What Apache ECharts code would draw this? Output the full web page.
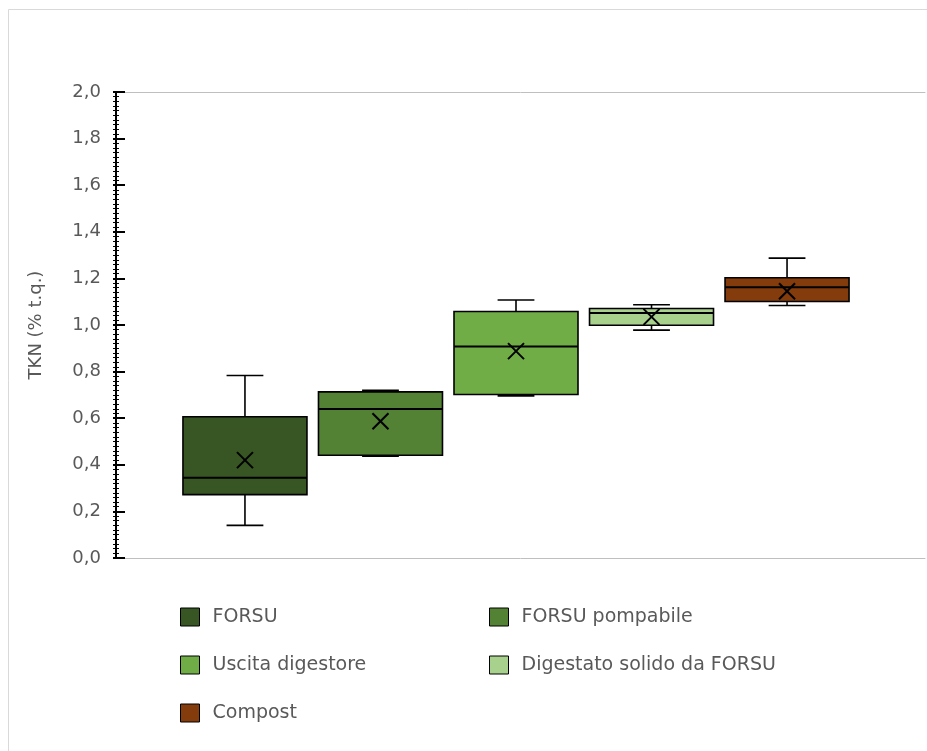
<!DOCTYPE html>
<html><head><meta charset="utf-8">
<script src="https://cdn.jsdelivr.net/npm/echarts@6/dist/echarts.min.js"></script>
<style>html,body{margin:0;padding:0;background:#fff}#c{width:927px;height:751px}</style>
</head><body><div id="c"></div>
<script>
// ---- data ----
const groups = ['FORSU', 'FORSU pompabile', 'Uscita digestore', 'Digestato solido da FORSU', 'Compost'];
const whiskerLow  = [0.140, 0.437, 0.696, 0.978, 1.084];
const q1          = [0.272, 0.441, 0.702, 0.999, 1.101];
const median      = [0.344, 0.640, 0.908, 1.051, 1.162];
const q3          = [0.606, 0.713, 1.058, 1.071, 1.203];
const whiskerHigh = [0.783, 0.720, 1.107, 1.087, 1.287];
const mean        = [0.420, 0.587, 0.888, 1.035, 1.145];
const yTickLabels = ['0,0', '0,2', '0,4', '0,6', '0,8', '1,0', '1,2', '1,4', '1,6', '1,8', '2,0'];
const colors = ['#375623', '#548235', '#70AD47', '#A9D18E', '#843C0C'];

const FONT = 'DejaVu Sans';
const GREY = '#595959';
const FRAME = '#bfbfbf';

function makeRender(i) {
  return function (params, api) {
    const band = api.size([1, 0])[0];
    const slot = band * 0.1694;
    const bw = band * 0.155;
    const cap = band * 0.046;
    const base = api.coord([api.value(0), api.value(3)]);
    const cx = base[0] + (i - (groups.length - 1) / 2) * slot;
    const y = (k) => api.coord([api.value(0), api.value(k)])[1];
    const yLo = y(1), yQ1 = y(2), yMed = y(3), yQ3 = y(4), yHi = y(5), yMean = y(6);
    const ln = { stroke: '#000', lineWidth: 1.6 };
    const m = 8;
    return {
      type: 'group',
      children: [
        { type: 'line', shape: { x1: cx, y1: yQ3, x2: cx, y2: yHi }, style: ln },
        { type: 'line', shape: { x1: cx - cap / 2, y1: yHi, x2: cx + cap / 2, y2: yHi }, style: ln },
        { type: 'line', shape: { x1: cx, y1: yQ1, x2: cx, y2: yLo }, style: ln },
        { type: 'line', shape: { x1: cx - cap / 2, y1: yLo, x2: cx + cap / 2, y2: yLo }, style: ln },
        { type: 'rect', shape: { x: cx - bw / 2, y: yQ3, width: bw, height: yQ1 - yQ3 },
          style: { fill: colors[i], stroke: '#000', lineWidth: 1.6 } },
        { type: 'line', shape: { x1: cx - bw / 2, y1: yMed, x2: cx + bw / 2, y2: yMed }, style: { stroke: '#000', lineWidth: 2 } },
        { type: 'line', shape: { x1: cx - m, y1: yMean - m, x2: cx + m, y2: yMean + m }, style: { stroke: '#000', lineWidth: 2 } },
        { type: 'line', shape: { x1: cx - m, y1: yMean + m, x2: cx + m, y2: yMean - m }, style: { stroke: '#000', lineWidth: 2 } }
      ]
    };
  };
}

const series = groups.map((g, i) => ({
  name: g,
  type: 'custom',
  xAxisIndex: 0,
  yAxisIndex: 0,
  itemStyle: { color: colors[i] },
  encode: { x: 0, y: [1, 2, 3, 4, 5, 6] },
  data: [[0, whiskerLow[i], q1[i], median[i], q3[i], whiskerHigh[i], mean[i]]],
  renderItem: makeRender(i),
  z: 5
}));

const legendItem = (i) => ({
  name: groups[i],
  itemStyle: { color: colors[i], borderColor: '#000', borderWidth: 1 }
});
const legendCommon = {
  orient: 'vertical',
  icon: 'rect',
  padding: 0,
  itemWidth: 19,
  itemHeight: 18,
  itemGap: 28,
  selectedMode: false,
  textStyle: { fontFamily: FONT, fontSize: 19, color: GREY, lineHeight: 20, padding: [0, 0, 0, 8] }
};

const frameLine = { show: true, lineStyle: { color: FRAME, width: 1 } };

const chart = echarts.init(document.getElementById('c'), null, { renderer: 'canvas' });
chart.setOption({
  animation: false,
  backgroundColor: '#fff',
  graphic: [{
    type: 'polyline', silent: true, z: -10,
    shape: { points: [[8.5, 800], [8.5, 9.5], [1000, 9.5]] },
    style: { fill: 'none', stroke: '#d9d9d9', lineWidth: 1 }
  }],
  grid: [
    { left: 116, right: 11, top: 92, bottom: 193 },
    { left: 116, right: 2, top: 92, bottom: 193 }
  ],
  xAxis: [
    { type: 'category', gridIndex: 0, data: ['TKN'], show: false },
    { type: 'value', gridIndex: 1, position: 'bottom', min: 0, max: 1,
      axisLine: frameLine, axisTick: { show: false }, axisLabel: { show: false }, splitLine: { show: false } },
    { type: 'value', gridIndex: 1, position: 'top', min: 0, max: 1,
      axisLine: frameLine, axisTick: { show: false }, axisLabel: { show: false }, splitLine: { show: false } }
  ],
  yAxis: [
    {
      type: 'value', gridIndex: 0, position: 'left', min: 0, max: 2, interval: 0.2, z: 10,
      name: 'TKN (% t.q.)', nameLocation: 'middle', nameGap: 71,
      nameTextStyle: { fontFamily: FONT, fontSize: 18, color: GREY },
      axisLine: { show: true, lineStyle: { color: '#000', width: 2 } },
      axisTick: { show: true, inside: true, length: 9, lineStyle: { color: '#000', width: 2 } },
      minorTick: { show: true, splitNumber: 10, length: 3, lineStyle: { color: '#000', width: 1 } },
      splitLine: { show: false },
      axisLabel: {
        margin: 15, fontFamily: FONT, fontSize: 18, color: GREY,
        formatter: (v) => yTickLabels[Math.round(v / 0.2)]
      }
    },
    {
      type: 'value', gridIndex: 0, position: 'left', offset: 0, min: 0, max: 2, interval: 0.2, z: 10,
      axisLine: { show: false },
      axisTick: { show: true, inside: false, length: 3, lineStyle: { color: '#000', width: 2 } },
      minorTick: { show: true, splitNumber: 10, length: 3, lineStyle: { color: '#000', width: 1 } },
      splitLine: { show: false },
      axisLabel: { show: false }
    },
    { type: 'value', gridIndex: 1, position: 'right', min: 0, max: 1,
      axisLine: frameLine, axisTick: { show: false }, axisLabel: { show: false }, splitLine: { show: false } }
  ],
  legend: [
    Object.assign({}, legendCommon, { left: 180, top: 607, data: [legendItem(0), legendItem(2), legendItem(4)] }),
    Object.assign({}, legendCommon, { left: 489, top: 607, data: [legendItem(1), legendItem(3)] })
  ],
  series: series
});
</script></body></html>
